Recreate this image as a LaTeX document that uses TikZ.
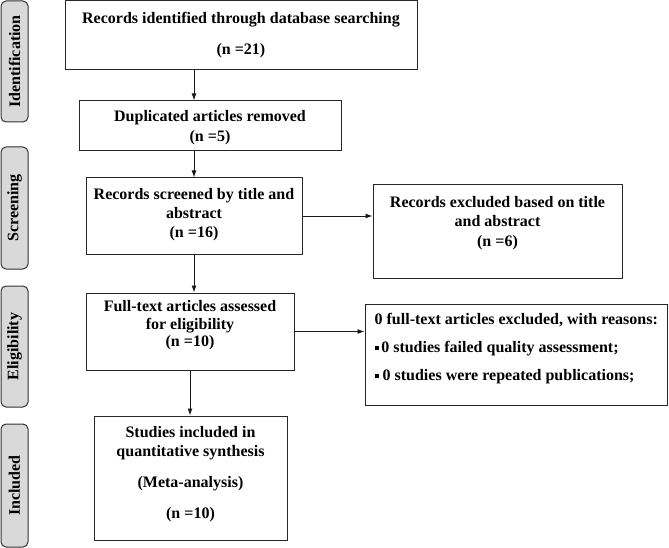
\documentclass[tikz,border=0pt]{standalone}
\usepackage{fontspec}
\setmainfont{Liberation Serif}
\usetikzlibrary{arrows.meta}
\newcommand{\liftup}[2]{\raisebox{#1}[\height][\depth]{\begin{tabular}{@{}c@{}}#2\end{tabular}}}
\newcommand{\liftleft}[2]{\raisebox{#1}[\height][\depth]{\begin{tabular}{@{}l@{}}#2\end{tabular}}}
\newcommand{\sqbullet}{\rule[2.5pt]{4pt}{4pt}}
\begin{document}
\begin{tikzpicture}[x=1pt,y=-1pt,
  font=\fontsize{16}{19}\selectfont\bfseries,
  box/.style={draw=black!85, line width=1pt, inner sep=0pt, fill=white},
  side/.style={draw=black!80, fill=black!15, rounded corners=5pt, line width=1pt,
    inner sep=0pt, rotate=90, minimum height=27pt},
  arr/.style={-{Latex[length=7pt,width=5pt]}, line width=0.9pt, draw=black!90}]
\useasboundingbox (0,0) rectangle (669,548);
\fill[white] (0,0) rectangle (669,548);
% side labels
\node[side, minimum width=121pt] (s1) at (14.5,61.5) {Identification};
\node[side, minimum width=122pt] (s2) at (14.5,208) {Screening};
\node[side, minimum width=121pt] (s3) at (14.5,346.5) {Eligibility};
\node[side, minimum width=123pt] (s4) at (14.5,485.5) {Included};
% main boxes
\node[box, minimum width=352pt, minimum height=69pt] (b1) at (241,35)
  {\liftup{0pt}{Records identified through database searching\\[12pt](n =21)}};
\node[box, minimum width=262pt, minimum height=50pt] (b2) at (210,126)
  {\liftup{-2pt}{Duplicated articles removed\\[1pt](n =5)}};
\node[box, minimum width=216pt, minimum height=76pt] (b3) at (194,216)
  {\liftup{1pt}{Records screened by title and\\abstract\\(n =16)}};
\node[box, minimum width=208pt, minimum height=77pt] (b4) at (190,331.5)
  {\liftup{6pt}{Full-text articles assessed\\[-1.5pt]for eligibility\\[-1.5pt](n =10)}};
\node[box, minimum width=193pt, minimum height=124pt] (b5) at (190.5,478)
  {\liftup{3.5pt}{Studies included in\\quantitative synthesis\\[12pt](Meta-analysis)\\[12pt](n =10)}};
% right boxes
\node[box, minimum width=249pt, minimum height=93pt] (r1) at (497.5,231.5)
  {\liftup{8pt}{Records excluded based on title\\and abstract\\[1pt](n =6)}};
\node[box, minimum width=302.5pt, minimum height=101pt] (r2) at (516.25,354.5)
  {\liftleft{5.5pt}{\multicolumn{1}{@{}c@{}}{0 full-text articles excluded, with reasons:}\\[9pt]
   \sqbullet\,0 studies failed quality assessment;\\[9pt]
   \sqbullet\ 0 studies were repeated publications;}};
% connectors
\coordinate (ax) at (194,0);
\draw[arr] (b1.south -| ax) -- (b2.north -| ax);
\draw[arr] (b2.south -| ax) -- (b3.north -| ax);
\draw[arr] (b3.south -| ax) -- (b4.north -| ax);
\draw[arr] (b4.south) -- (b4.south |- b5.north);
\draw[arr] (b3.east) -- (b3.east -| r1.west);
\draw[arr] (b4.east) -- (b4.east -| r2.west);
\end{tikzpicture}
\end{document}
